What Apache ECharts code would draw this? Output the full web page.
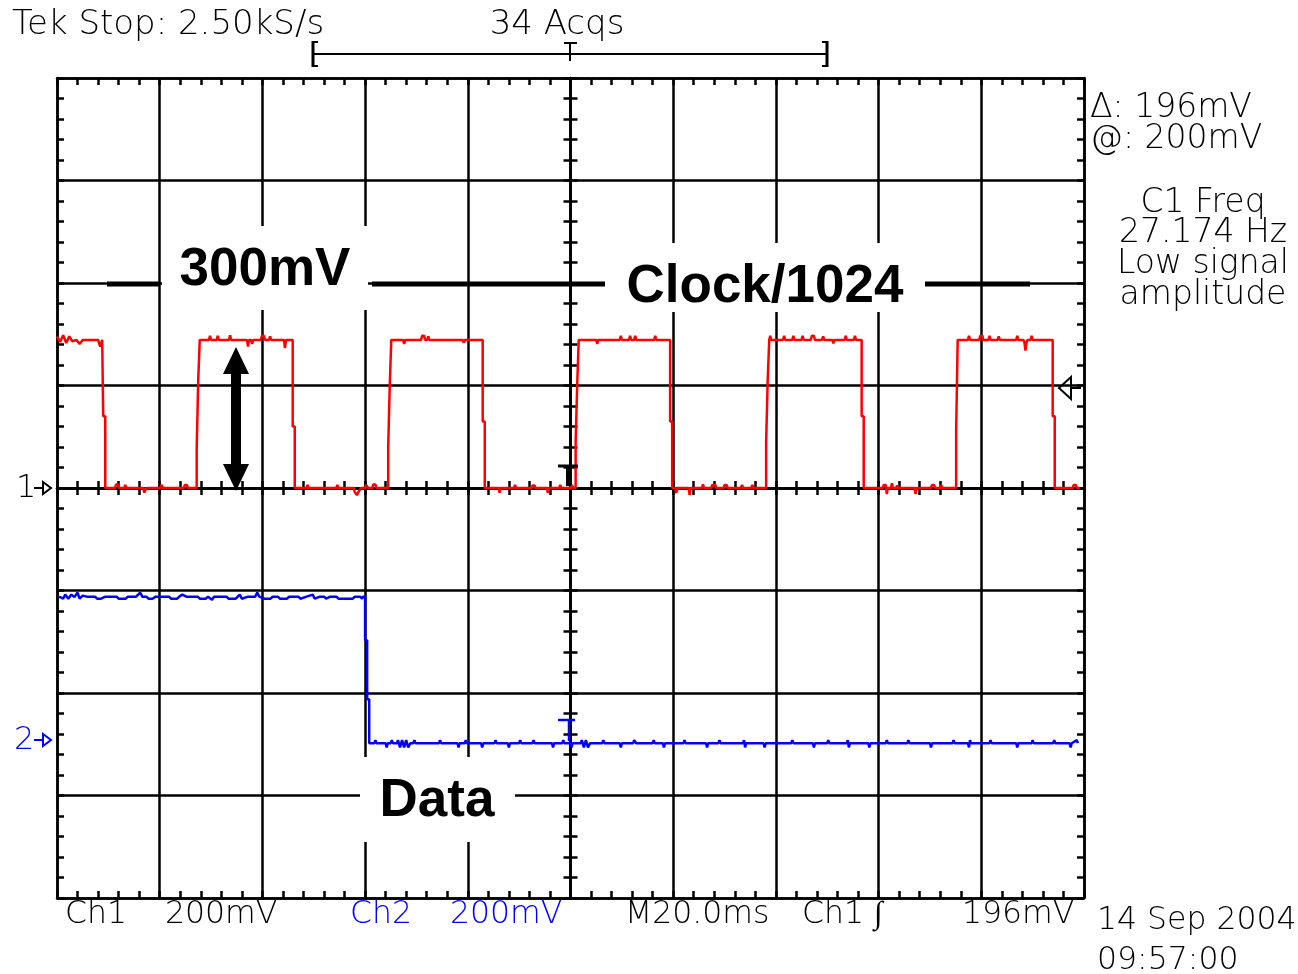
<!DOCTYPE html>
<html>
<head>
<meta charset="utf-8">
<script src="https://cdn.jsdelivr.net/npm/echarts@6.0.0/dist/echarts.min.js"></script>
<style>
html, body { margin: 0; padding: 0; background: #fff; }
#main { width: 1298px; height: 974px; }
</style>
</head>
<body>
<div id="main"></div>
<script>
// horizontal: ms, trigger at 0, 20 ms / div ; vertical: divisions
var timeMin = -100, timeMax = 100, timeStep = 20;
var divMin = -4, divMax = 4, divStep = 1;
var mvPerDiv = 200;
var ch1Offset = 0;      // ground marker "1" (divisions)
var ch2Offset = -2.46;  // ground marker "2"

// Ch1 : clock / 1024, [ms, mV]
var ch1Trace = [
  [-100.0,296],[-99.4,285],[-98.8,298],[-98.2,283],[-97.6,296],[-97.0,286],[-96.2,289],[-95.6,281],[-95.0,289],
  [-92.0,289],[-91.6,276],[-91.2,289],[-91.0,289],[-91.0,140],[-90.6,140],[-90.6,0],
  [-88.7,0],[-88.5,7],[-88.1,7],[-87.9,0],[-86.9,0],[-86.7,6],[-86.5,0],[-83.2,0],[-83.0,-9],[-82.6,0],
  [-79.9,0],[-79.7,6],[-79.3,0],[-75.3,0],[-75.1,6],[-74.7,6],[-74.5,0],[-72.8,0],
  [-72.8,75],[-72.5,75],[-72.5,210],[-72.2,210],[-72.2,289],
  [-70.4,289],[-70.2,297],[-70.0,289],[-68.9,289],[-68.7,297],[-68.5,289],[-66.5,289],[-66.3,298],[-66.1,289],
  [-63.0,289],[-62.8,276],[-62.6,289],[-62.2,289],[-62.0,281],[-61.8,289],[-60.3,289],[-60.1,297],[-59.7,297],[-59.5,289],
  [-58.7,289],[-58.5,296],[-58.3,289],[-55.8,289],[-55.6,273],[-55.4,289],[-54.1,289],
  [-54.1,120],[-53.7,120],[-53.7,0],
  [-51.4,0],[-51.2,6],[-51.0,0],[-45.6,0],[-45.4,6],[-45.2,0],[-42.2,0],[-42.0,-8],[-41.6,-14],[-41.2,-6],[-40.8,0],
  [-40.0,0],[-39.8,6],[-39.4,0],[-38.6,0],[-38.4,7],[-38.0,7],[-37.8,0],[-35.5,0],
  [-35.5,80],[-35.2,80],[-35.2,200],[-34.9,200],[-34.9,289],
  [-32.6,289],[-32.4,281],[-32.2,289],[-29.1,289],[-28.9,297],[-28.5,297],[-28.3,289],[-27.9,289],[-27.7,296],[-27.5,289],
  [-21.0,289],[-20.8,283],[-20.6,289],[-17.1,289],
  [-17.1,130],[-16.7,130],[-16.7,0],
  [-14.0,0],[-13.8,-9],[-13.6,0],[-11.0,0],[-10.8,6],[-10.6,0],[-7.6,0],[-7.4,5],[-7.0,5],[-6.8,0],[-4.6,0],[-4.4,-10],[-4.2,0],
  [-2.2,0],[-2.0,6],[-1.8,0],[0.0,0],[0.2,6],[0.4,6],[0.6,0],[1.0,0],
  [1.0,90],[1.3,90],[1.3,200],[1.6,200],[1.6,289],
  [5.0,289],[5.2,281],[5.4,289],[9.6,289],[9.8,297],[10.0,289],[11.4,289],[11.6,297],[11.8,289],[12.4,289],[12.6,297],[12.8,289],
  [16.3,289],[16.5,297],[16.7,289],[19.4,289],
  [19.4,130],[19.8,130],[19.8,0],
  [20.4,0],[20.6,-10],[20.8,0],[23.0,0],[23.2,-14],[23.4,0],[25.6,0],[25.8,7],[26.0,0],[27.4,0],[27.6,6],[28.2,6],[28.4,0],
  [29.8,0],[30.0,6],[30.4,6],[30.6,0],[33.2,0],[33.4,6],[33.6,0],[35.2,0],[35.4,6],[35.6,0],[38.1,0],
  [38.1,90],[38.4,90],[38.4,210],[38.7,210],[38.7,289],
  [38.9,297],[39.1,289],[41.4,289],[41.6,297],[41.8,289],[43.2,289],[43.4,297],[43.6,289],[45.0,289],[45.2,297],[45.4,289],
  [46.8,289],[47.0,297],[47.4,297],[47.6,289],[49.0,289],[49.2,296],[49.4,289],[51.0,289],[51.2,282],[51.4,289],
  [53.4,289],[53.6,297],[53.8,289],[55.2,289],[55.4,297],[55.6,289],[56.7,289],
  [56.7,140],[57.1,140],[57.1,0],
  [60.8,0],[61.0,6],[61.4,6],[61.6,-12],[61.8,0],[62.4,0],[62.6,9],[62.8,0],[63.4,0],[63.6,5],[63.8,0],[67.0,0],[67.2,-12],[67.4,0],
  [70.2,0],[70.4,6],[70.8,6],[71.0,0],[72.0,0],[72.2,6],[72.4,0],[75.1,0],
  [75.1,110],[75.4,110],[75.4,289],
  [77.4,289],[77.6,297],[77.8,289],[79.6,289],[79.8,297],[80.2,297],[80.4,289],[81.4,289],[81.6,297],[81.8,289],[83.2,289],[83.4,296],[83.6,289],
  [86.8,289],[87.0,297],[87.2,289],[88.2,289],[88.4,284],[88.6,268],[88.8,284],[89.0,289],[89.6,289],[89.8,297],[90.0,289],[93.9,289],
  [93.9,140],[94.3,140],[94.3,0],
  [97.8,0],[98.0,6],[98.4,6],[98.6,0],[99.2,0]
];

// Ch2 : data line, [ms, mV]
var ch2Trace = [
  [-99.6,280],[-98.8,276],[-98.4,284],[-97.8,276],[-97.2,284],[-96.6,279],[-96.0,288],[-95.6,276],[-95.0,282],[-94.2,280],
  [-92.6,280],[-92.2,276],[-91.4,276],[-90.6,280],[-88.4,280],[-88.0,276],[-86.6,276],[-86.2,280],[-84.6,280],[-84.2,284],
  [-83.8,288],[-83.4,280],[-82.6,280],[-82.2,276],[-81.4,276],[-80.8,280],[-78.2,280],[-77.8,276],[-76.6,276],[-76.2,280],
  [-75.6,284],[-74.8,280],[-72.6,280],[-72.2,276],[-71.0,276],[-70.6,280],[-69.8,274],[-69.4,280],[-67.0,280],[-66.6,276],
  [-65.2,276],[-64.8,280],[-64.4,284],[-64.0,276],[-62.8,280],[-61.4,280],[-61.0,288],[-60.6,280],[-59.6,276],[-58.4,276],
  [-58.0,280],[-57.0,280],[-56.6,276],[-55.2,276],[-54.8,280],[-53.0,280],[-52.6,276],[-51.4,280],[-50.2,284],[-49.8,276],
  [-48.8,280],[-48.0,280],[-47.6,276],[-46.8,280],[-45.6,280],[-45.2,276],[-42.4,276],[-42.0,280],[-41.0,280],[-40.6,276],
  [-40.4,280],[-40.0,280],
  [-40.0,195],[-39.6,195],[-39.6,80],[-39.2,80],[-39.2,-6],
  [-38.2,-6],[-38.0,0],[-37.8,-6],[-36.0,-6],[-35.8,-14],[-35.6,-6],[-35.0,-6],[-34.8,0],[-34.6,-6],[-33.8,-6],[-33.6,0],
  [-33.2,-14],[-32.8,0],[-32.4,-14],[-32.0,0],[-31.6,-14],[-31.2,-6],[-30.6,-6],[-30.4,0],[-30.2,-6],[-25.6,-6],[-25.4,0],
  [-25.2,-6],[-22.0,-6],[-21.8,-14],[-21.6,-6],[-20.6,-6],[-20.4,0],[-20.2,-6],[-17.4,-6],[-17.2,-14],[-17.0,-6],[-14.8,-6],
  [-14.6,0],[-14.4,-6],[-12.2,-6],[-12.0,-14],[-11.8,-6],[-10.0,-6],[-9.8,0],[-9.6,-6],[-7.4,-6],[-7.2,0],[-7.0,-6],[-3.6,-6],
  [-3.4,-14],[-3.2,-6],[-1.6,-6],[-1.4,0],[-1.2,-6],[0.0,-6],[0.2,-14],[0.4,-6],[2.0,-6],[2.2,0],[2.6,-14],[3.0,0],[3.4,-14],
  [3.8,-6],[6.2,-6],[6.4,0],[6.6,-6],[9.6,-6],[9.8,-14],[10.0,-6],[12.2,-6],[12.4,0],[12.8,-6],[16.0,-6],[16.2,0],[16.4,-6],
  [18.0,-6],[18.2,-14],[18.4,-6],[22.0,-6],[22.2,0],[22.4,-6],[26.4,-6],[26.6,-14],[26.8,-6],[28.8,-6],[29.0,0],[29.2,-6],
  [33.6,-6],[33.8,0],[34.0,-14],[34.2,-6],[37.6,-6],[37.8,-14],[38.0,-6],[43.0,-6],[43.2,0],[43.4,-6],[47.2,-6],[47.4,-14],
  [47.6,-6],[50.0,-6],[50.2,0],[50.4,-6],[53.8,-6],[54.0,0],[54.2,-14],[54.4,-6],[58.0,-6],[58.2,-14],[58.4,-6],[61.4,-6],
  [61.6,0],[61.8,-6],[65.6,-6],[65.8,0],[66.0,-6],[70.0,-6],[70.2,-14],[70.4,-6],[74.4,-6],[74.6,0],[74.8,-6],[77.4,-6],
  [77.6,-14],[77.8,0],[78.0,-6],[81.6,-6],[81.8,0],[82.0,-6],[86.8,-6],[87.0,-14],[87.2,-6],[89.8,-6],[90.0,0],[90.2,-6],
  [94.0,-6],[94.2,0],[94.4,-6],[97.2,-6],[97.4,-14],[97.6,-6],[98.6,0],[98.8,-6]
];

var topTexts = ['Tek Stop: 2.50kS/s', '34 Acqs'];
var sideTexts = ['\u0394: 196mV', '@: 200mV', 'C1 Freq', '27.174 Hz', 'Low signal', 'amplitude'];
var bottomTexts = ['Ch1', '200mV', 'Ch2', '200mV', 'M20.0ms', 'Ch1 \u222B', '196mV'];
var dateTexts = ['14 Sep 2004', '09:57:00'];
var notes = ['300mV', 'Clock/1024', 'Data'];

var scopeFont = 'DejaVu Sans';
var noteFont = 'Liberation Sans';
var black = '#000000', red = '#ff0000', blue = '#0000ff';
var gridW = 2.5;

function toDiv(trace, offset) {
    return trace.map(function (p) { return [p[0], p[1] / mvPerDiv + offset]; });
}

function axisBase(min, max, step) {
    return { type: 'value', min: min, max: max, interval: step, axisLabel: { show: false }, splitLine: { show: false } };
}

function edgeAxis(min, max, step, pos, grid) {
    var a = axisBase(min, max, step);
    a.position = pos;
    a.axisLine = { show: true, onZero: false, lineStyle: { color: black, width: gridW } };
    a.axisTick = { show: true, inside: true, length: 7, lineStyle: { color: black, width: gridW } };
    a.minorTick = { show: true, splitNumber: 5, length: 7, lineStyle: { color: black, width: gridW } };
    if (grid) a.splitLine = { show: true, lineStyle: { color: black, width: gridW } };
    return a;
}

function centerAxis(min, max, step, pos, inside) {
    var a = axisBase(min, max, step);
    a.position = pos;
    a.axisLine = { show: true, onZero: true, onZeroAxisIndex: 0, lineStyle: { color: black, width: gridW } };
    a.axisTick = { show: true, inside: inside, length: 7, lineStyle: { color: black, width: gridW } };
    a.minorTick = { show: true, splitNumber: 5, length: 7, lineStyle: { color: black, width: gridW } };
    return a;
}

function txt(x, y, s, color, align, size) {
    return {
        type: 'text', x: x, y: y, z: 110,
        style: { text: s, fill: color, fontFamily: scopeFont, fontSize: size || 32, fontWeight: 200,
                 textAlign: align || 'left', textVerticalAlign: 'middle' }
    };
}

function box(x, y, w, h) {
    return { type: 'rect', z: 100, shape: { x: x, y: y, width: w, height: h }, style: { fill: '#fff' } };
}

function seg(x1, y1, x2, y2, color, w) {
    return { type: 'line', z: 105, shape: { x1: x1, y1: y1, x2: x2, y2: y2 }, style: { stroke: color, lineWidth: w } };
}

function note(x, y, s) {
    return { type: 'text', x: x, y: y, z: 110,
        style: { text: s, fill: black, fontFamily: noteFont, fontSize: 53, fontWeight: 'bold',
                 textAlign: 'center', textVerticalAlign: 'middle' } };
}

var graphics = [
    // white label boxes over the grid
    box(162, 226, 206, 84), box(605, 243, 320, 69), box(360, 757, 155, 85),
    seg(107, 284, 160, 284, black, 5), seg(372, 284, 605, 284, black, 5), seg(925, 284, 1030, 284, black, 5),
    note(265, 270, notes[0]), note(765, 287, notes[1]), note(437, 801, notes[2]),
    // double arrow (300mV)
    { type: 'polygon', z: 105, shape: { points: [[236, 347], [249, 374], [241, 374], [241, 464], [249, 464], [236, 491],
        [223, 464], [231, 464], [231, 374], [223, 374]] }, style: { fill: black } },
    // record bar
    seg(313, 54, 827, 54, black, 2),
    seg(313, 41, 313, 67, black, 3), seg(313, 42, 318, 42, black, 2), seg(313, 66, 318, 66, black, 2),
    seg(827, 41, 827, 67, black, 3), seg(822, 42, 827, 42, black, 2), seg(822, 66, 827, 66, black, 2),
    seg(564, 43, 577, 43, black, 2), seg(570, 43, 570, 61, black, 2),
    // trigger position markers
    seg(558, 466, 578, 466, black, 3), seg(568.5, 466, 568.5, 486, black, 5),
    seg(558, 720, 575, 720, blue, 2.5), seg(569, 720, 569, 741, blue, 2.5),
    // trigger level marker
    { type: 'polygon', z: 105, shape: { points: [[1059, 388], [1071, 377], [1071, 399]] }, style: { fill: 'none', stroke: black, lineWidth: 2 } },
    seg(1071, 388, 1081, 388, black, 2),
    // ground markers
    txt(16, 489, '1', black, 'left', 32),
    seg(34, 488, 43, 488, black, 2),
    { type: 'polygon', z: 105, shape: { points: [[43, 482], [51, 488], [43, 494]] }, style: { fill: 'none', stroke: black, lineWidth: 2 } },
    txt(14, 741, '2', blue, 'left', 32),
    seg(34, 740, 43, 740, blue, 2),
    { type: 'polygon', z: 105, shape: { points: [[43, 734], [51, 740], [43, 746]] }, style: { fill: 'none', stroke: blue, lineWidth: 2 } },
    // header
    txt(12, 25, topTexts[0], black, 'left', 34),
    txt(557, 25, topTexts[1], black, 'center', 34),
    // side readouts
    txt(1090, 108, sideTexts[0], black, 'left', 33),
    txt(1090, 139, sideTexts[1], black, 'left', 33),
    txt(1203, 203, sideTexts[2], black, 'center', 33),
    txt(1203, 233, sideTexts[3], black, 'center', 33),
    txt(1203, 264, sideTexts[4], black, 'center', 33),
    txt(1203, 295, sideTexts[5], black, 'center', 33),
    // footer
    txt(65, 915, bottomTexts[0], black, 'left', 31.5),
    txt(165, 915, bottomTexts[1], black, 'left', 31.5),
    txt(350, 915, bottomTexts[2], blue, 'left', 31.5),
    txt(450, 915, bottomTexts[3], blue, 'left', 31.5),
    txt(625, 915, bottomTexts[4], black, 'left', 31.5),
    txt(802, 915, bottomTexts[5], black, 'left', 31.5),
    txt(962, 915, bottomTexts[6], black, 'left', 31.5),
    txt(1097, 921, dateTexts[0], black, 'left', 31.5),
    txt(1097, 961, dateTexts[1], black, 'left', 31.5)
];

var chart = echarts.init(document.getElementById('main'), null, { renderer: 'canvas' });

var option = {
    animation: false,
    backgroundColor: '#ffffff',
    grid: { left: 57, top: 78, right: 214, bottom: 76, outerBoundsMode: 'none' },
    xAxis: [
        edgeAxis(timeMin, timeMax, timeStep, 'bottom', true),
        edgeAxis(timeMin, timeMax, timeStep, 'top', false),
        centerAxis(timeMin, timeMax, timeStep, 'bottom', false),
        centerAxis(timeMin, timeMax, timeStep, 'bottom', true)
    ],
    yAxis: [
        edgeAxis(divMin, divMax, divStep, 'left', true),
        edgeAxis(divMin, divMax, divStep, 'right', false),
        centerAxis(divMin, divMax, divStep, 'left', false),
        centerAxis(divMin, divMax, divStep, 'left', true)
    ],
    series: [
        { name: 'Ch1', type: 'line', xAxisIndex: 0, yAxisIndex: 0, data: toDiv(ch1Trace, ch1Offset),
          showSymbol: false, lineStyle: { color: red, width: 2.5 }, z: 5 },
        { name: 'Ch2', type: 'line', xAxisIndex: 0, yAxisIndex: 0, data: toDiv(ch2Trace, ch2Offset),
          showSymbol: false, lineStyle: { color: blue, width: 2.5 }, z: 5 }
    ],
    graphic: graphics
};

chart.setOption(option, true);
</script>
</body>
</html>
